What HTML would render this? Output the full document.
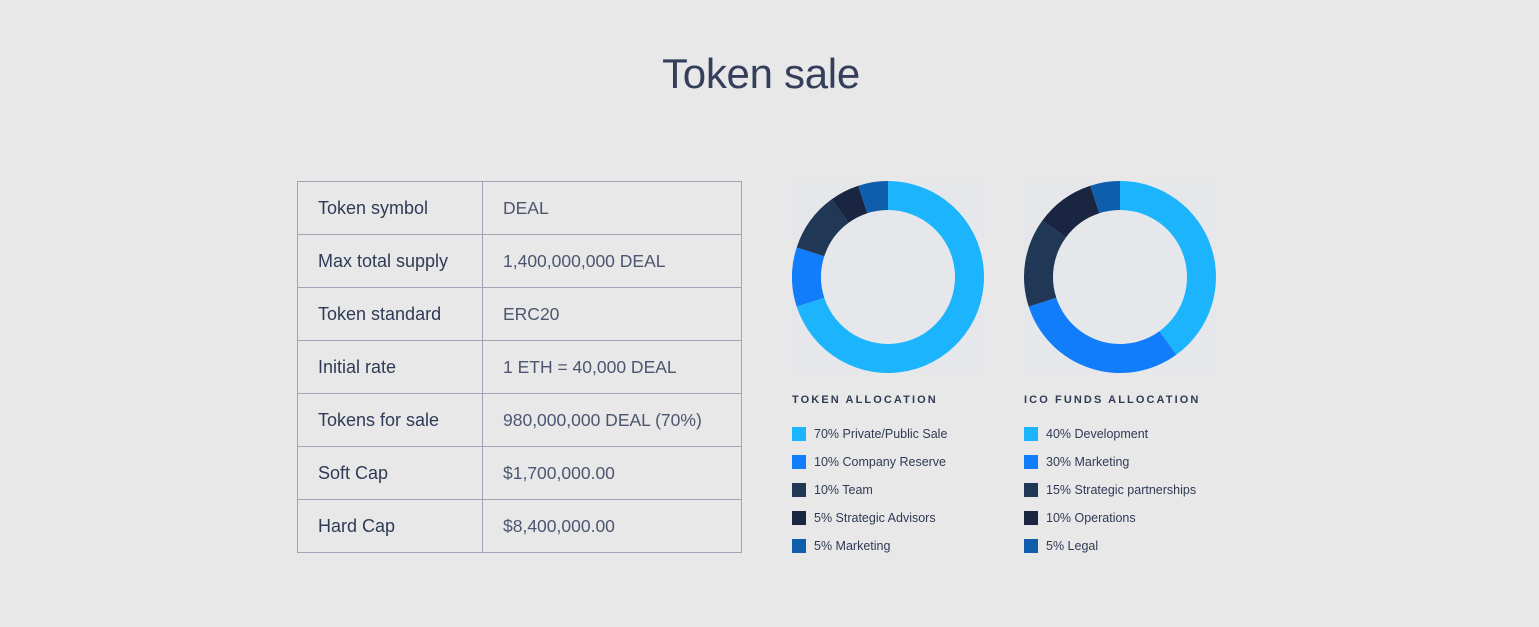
<!DOCTYPE html>
<html><head><meta charset="utf-8">
<style>
body{margin:0;width:1539px;height:627px;background:#e8e8e8;font-family:"Liberation Sans",sans-serif;color:#2f3a55;position:relative;overflow:hidden}
h1{position:absolute;top:50px;left:0;width:1522px;text-align:center;margin:0;font-weight:300;font-size:42px;color:#353f5c;letter-spacing:-0.3px}
table{position:absolute;left:297px;top:181px;border-collapse:collapse;width:445px}
td{border:1px solid #a2a3b4;height:53px;padding:0 0 0 20px;box-sizing:border-box}
td.k{width:185px;color:#2f3a55;font-size:18px}
td.v{color:#4d5670;font-size:17.5px}
.chart{position:absolute;top:181px}
.ttl{position:absolute;top:394px;font-size:11px;font-weight:bold;letter-spacing:2.1px;color:#2f3a55}
.leg{position:absolute;font-size:12.5px;color:#2f3a55}
.leg span.sw{position:absolute;left:0;top:0;width:14px;height:14px}
.leg span.t{position:absolute;left:22px;top:0px;white-space:nowrap}
</style></head><body>
<h1>Token sale</h1>
<table>
<tr><td class="k">Token symbol</td><td class="v">DEAL</td></tr>
<tr><td class="k">Max total supply</td><td class="v">1,400,000,000 DEAL</td></tr>
<tr><td class="k">Token standard</td><td class="v">ERC20</td></tr>
<tr><td class="k">Initial rate</td><td class="v">1 ETH = 40,000 DEAL</td></tr>
<tr><td class="k">Tokens for sale</td><td class="v">980,000,000 DEAL (70%)</td></tr>
<tr><td class="k">Soft Cap</td><td class="v">$1,700,000.00</td></tr>
<tr><td class="k">Hard Cap</td><td class="v">$8,400,000.00</td></tr>
</table>
<svg id="c1" class="chart" style="left:792px" width="192" height="192"></svg>
<svg id="c2" class="chart" style="left:1024px" width="192" height="192"></svg>
<div class="ttl" style="left:792px">TOKEN ALLOCATION</div>
<div class="ttl" style="left:1024px">ICO FUNDS ALLOCATION</div>
<div id="l1"></div><div id="l2"></div>
<script>
const colors=["#1cb5fd","#127dfa","#213756","#1a2542","#0f5eab"];
const tokenLabels=["Private/Public Sale","Company Reserve","Team","Strategic Advisors","Marketing"];
const tokenValues=[70,10,10,5,5];
const icoLabels=["Development","Marketing","Strategic partnerships","Operations","Legal"];
const icoValues=[40,30,15,10,5];
const NS="http://www.w3.org/2000/svg";
function donut(id,vals){
  const svg=document.getElementById(id);
  const bg=document.createElementNS(NS,"rect");
  bg.setAttribute("width",192);bg.setAttribute("height",192);bg.setAttribute("fill","#e6e7ea");
  
  
  svg.appendChild(bg);
  const tot=vals.reduce((a,b)=>a+b,0);
  const cx=96,cy=96,R=96,r=67;
  let a0=0;
  vals.forEach((v,i)=>{
    const a1=a0+v/tot*2*Math.PI;
    const p=(rad,a)=>[cx+rad*Math.sin(a),cy-rad*Math.cos(a)];
    const large=(a1-a0)>Math.PI?1:0;
    const [x1,y1]=p(R,a0),[x2,y2]=p(R,a1),[x3,y3]=p(r,a1),[x4,y4]=p(r,a0);
    const path=document.createElementNS(NS,"path");
    path.setAttribute("d",`M${x1},${y1}A${R},${R} 0 ${large} 1 ${x2},${y2}L${x3},${y3}A${r},${r} 0 ${large} 0 ${x4},${y4}Z`);
    path.setAttribute("fill",colors[i]);
    
    
    svg.appendChild(path);
    a0=a1;
  });
}
function legend(id,left,labels,vals){
  const c=document.getElementById(id);
  labels.forEach((l,i)=>{
    const d=document.createElement("div");
    d.className="leg";d.style.left=left+"px";d.style.top=(427+i*28)+"px";
    
    
    d.innerHTML=`<span class="sw" style="background:${colors[i]}"></span><span class="t">${vals[i]}% ${l}</span>`;
    c.appendChild(d);
  });
}
donut("c1",tokenValues);donut("c2",icoValues);
legend("l1",792,tokenLabels,tokenValues);legend("l2",1024,icoLabels,icoValues);
</script>
</body></html>
